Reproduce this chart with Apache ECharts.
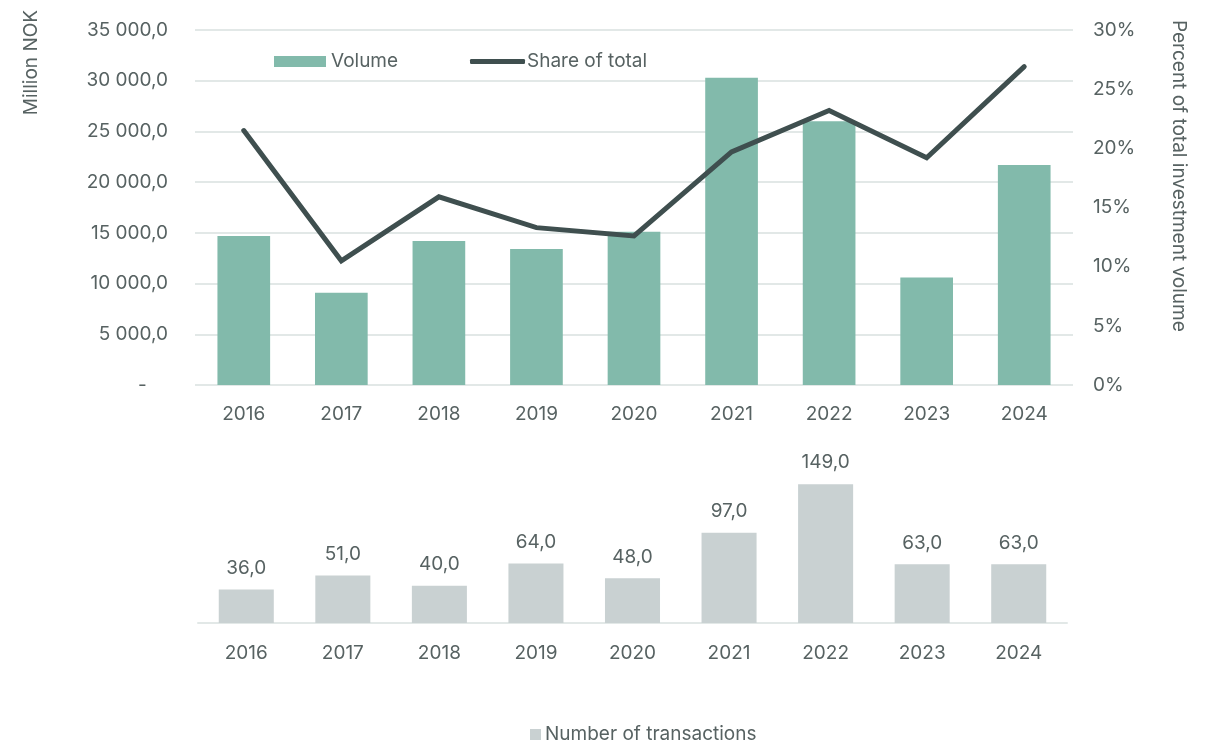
<!DOCTYPE html>
<html>
<head>
<meta charset="utf-8">
<script src="https://cdn.jsdelivr.net/npm/echarts@6/dist/echarts.min.js"></script>
<style>
html,body{margin:0;padding:0;background:#fff;}
#chart{width:1211px;height:742px;}
</style>
</head>
<body>
<div id="chart"></div>
<script>
const categories = ['2016','2017','2018','2019','2020','2021','2022','2023','2024'];
const volume = [14700, 9100, 14200, 13400, 15100, 30300, 26000, 10600, 21700];
const shareOfTotal = [21.5, 10.5, 15.9, 13.3, 12.6, 19.7, 23.2, 19.2, 26.9];
const transactions = [36, 51, 40, 64, 48, 97, 149, 63, 63];
const leftTicks = [0, 5000, 10000, 15000, 20000, 25000, 30000, 35000];
const rightTicks = [0, 5, 10, 15, 20, 25, 30];

const FONT = 'Inter';
const TXT = '#576262';
const GRIDC = '#e2e8e7';

function fmtNok(v){
  if (v === 0) return '-    ';
  const s = Math.round(v).toString();
  const th = s.length > 3 ? s.slice(0, s.length-3) + ' ' + s.slice(-3) : s;
  return th + ',0';
}

const chart = echarts.init(document.getElementById('chart'));
chart.setOption({
  animation: false,
  textStyle: {fontFamily: FONT, color: TXT},
  grid: [
    {left: 195, right: 138, top: 30, bottom: 357},
    {left: 198, right: 144, top: 474, bottom: 119}
  ],
  legend: [
    {
      data: [{name: 'Volume', icon: 'rect'}],
      left: 274, top: 52, padding: 0,
      itemWidth: 52, itemHeight: 11,
      textStyle: {fontFamily: FONT, fontSize: 19, color: TXT, padding: [0,0,0,0]}
    },
    {
      data: [{name: 'Share of total', icon: 'roundRect'}],
      left: 470, top: 52, padding: 0,
      itemWidth: 55, itemHeight: 5,
      textStyle: {fontFamily: FONT, fontSize: 19, color: TXT, padding: [0,0,0,-3]}
    },
    {
      data: [{name: 'Number of transactions', icon: 'rect'}],
      left: 530, top: 725, padding: 0,
      itemWidth: 11, itemHeight: 11,
      textStyle: {fontFamily: FONT, fontSize: 19, color: TXT, padding: [0,0,0,-1]}
    }
  ],
  xAxis: [
    {
      type: 'category', gridIndex: 0, data: categories,
      axisLine: {show: false}, axisTick: {show: false},
      axisLabel: {fontFamily: FONT, fontSize: 19, color: TXT, margin: 20}
    },
    {
      type: 'category', gridIndex: 1, data: categories,
      axisLine: {show: true, lineStyle: {color: GRIDC, width: 2}}, axisTick: {show: false},
      axisLabel: {fontFamily: FONT, fontSize: 19, color: TXT, margin: 21}
    }
  ],
  yAxis: [
    {
      type: 'value', gridIndex: 0, min: leftTicks[0], max: leftTicks[leftTicks.length-1], interval: 5000,
      axisLine: {show: false}, axisTick: {show: false},
      splitLine: {lineStyle: {color: GRIDC, width: 2}},
      axisLabel: {fontFamily: FONT, fontSize: 19, color: TXT, margin: 27, formatter: fmtNok}
    },
    {
      type: 'value', gridIndex: 0, position: 'right', min: rightTicks[0], max: rightTicks[rightTicks.length-1], interval: 5,
      axisLine: {show: false}, axisTick: {show: false}, splitLine: {show: false},
      axisLabel: {fontFamily: FONT, fontSize: 19, color: TXT, margin: 20, formatter: v => v + '%'}
    },
    {
      type: 'value', gridIndex: 1, min: 0, max: 160,
      show: false, splitLine: {show: false}
    }
  ],
  graphic: [
    {type: 'text', left: 22, top: 10, rotation: Math.PI/2, style: {text: 'Million NOK', fontFamily: FONT, fontSize: 19, fill: TXT}},
    {type: 'text', rotation: -Math.PI/2, x: 1188, y: 20, style: {text: 'Percent of total investment volume', fontFamily: FONT, fontSize: 19, fill: TXT}}
  ],
  series: [
    {
      name: 'Volume', type: 'bar', xAxisIndex: 0, yAxisIndex: 0, data: volume,
      barWidth: '54%', itemStyle: {color: '#82baab'}
    },
    {
      name: 'Share of total', type: 'line', xAxisIndex: 0, yAxisIndex: 1, data: shareOfTotal,
      symbol: 'none', lineStyle: {color: '#3f4f4f', width: 5, cap: 'round', join: 'miter'},
      itemStyle: {color: '#3f4f4f'}
    },
    {
      name: 'Number of transactions', type: 'bar', xAxisIndex: 1, yAxisIndex: 2, data: transactions,
      barWidth: '57%', itemStyle: {color: '#c9d1d2'},
      label: {show: true, position: 'top', distance: 12, fontFamily: FONT, fontSize: 19, color: TXT,
              formatter: p => p.value.toFixed(1).replace('.', ',')}
    }
  ]
});
</script>
</body>
</html>
